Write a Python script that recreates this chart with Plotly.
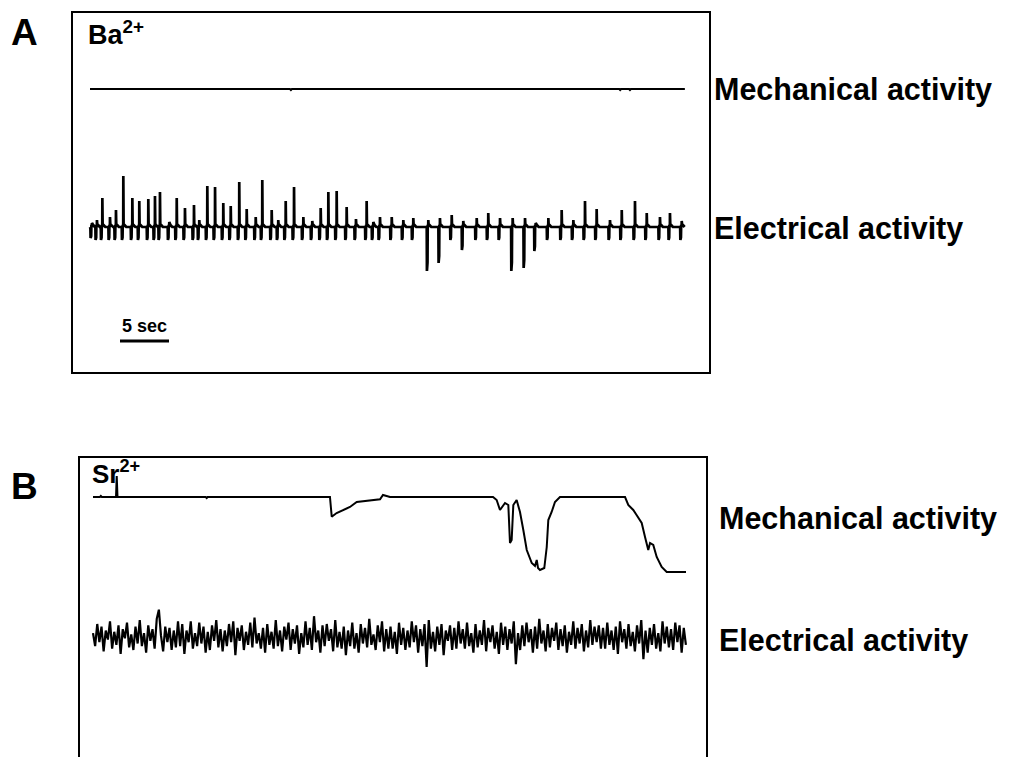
import plotly.graph_objects as go

W, H = 1013, 757
PX_PER_SEC = 9.8

# ---------------- Panel A (Ba2+) data ----------------
# spike times (s), upward spike amplitude, downward deflection depth (arbitrary units)
ba_spike_t = [0.2, 0.71, 1.26, 2.04, 2.65, 3.4, 4.32, 5.03, 5.95, 6.63, 7.14, 8.09, 8.85, 9.69,
              10.61, 11.15, 11.97, 12.76, 13.6, 14.36, 15.23, 15.99, 16.91, 17.58, 18.54, 19.21,
              19.97, 20.82, 21.77, 22.68, 23.54, 24.32, 25.17, 26.19, 27.14, 28.23, 28.91, 29.59,
              30.79, 31.97, 32.99, 34.52, 35.71, 36.91, 38.09, 39.46, 40.64, 41.84, 43.13, 44.39,
              45.48, 46.77, 48.13, 49.32, 50.51, 51.7, 53.06, 54.26, 55.61, 56.81, 58.16, 59.18, 60.38]
ba_spike_up = [5, 8, 30, 11, 18, 52, 30, 27, 29, 32, 36, 6, 30, 20,
               23, 8, 42, 41, 25, 22, 46, 19, 11, 48, 18, 8,
               27, 41, 11, 7, 20, 36, 37, 21, 9, 27, 6, 11,
               11, 8, 10, 8, 10, 13, 7, 10, 15, 10, 10, 10,
               5, 10, 18, 8, 27, 19, 8, 18, 27, 15, 11, 15, 7]
ba_spike_down = [10, 12, 12, 12, 12, 12, 12, 12, 12, 12, 12, 12, 12, 12,
                 12, 12, 12, 12, 12, 12, 12, 12, 12, 12, 12, 12,
                 12, 12, 12, 12, 12, 12, 12, 12, 12, 12, 12, 12,
                 12, 12, 12, 43, 35, 12, 22, 12, 12, 12, 43, 40,
                 23, 12, 12, 12, 12, 12, 12, 12, 12, 12, 12, 12, 12]
ba_mech_t = [0, 20.4, 20.5, 20.6, 54.0, 54.1, 54.2, 55.0, 55.1, 55.2, 60.7]
ba_mech_v = [0, 0, -1, 0, 0, -1, 0, 0, -1, 0, 0]

# ---------------- Panel B (Sr2+) data ----------------
sr_mech_t = [0, 0.71, 0.8, 0.9, 2.35, 2.42, 2.5, 11.5, 11.6, 11.7, 24.18, 24.36, 24.86, 25.51,
             26.22, 26.91, 27.93, 29.29, 29.59, 30.31, 40.82, 41.19, 41.53, 42.04, 42.38, 42.55,
             42.72, 42.89, 43.23, 43.57, 43.91, 44.26, 44.77, 45.1, 45.28, 45.41, 45.61, 46.05,
             46.3, 46.46, 46.8, 47.14, 47.65, 54.29, 54.62, 55.13, 55.4, 55.64, 55.99, 56.33,
             56.66, 56.84, 57.17, 57.52, 58.03, 58.54, 60.51]
sr_mech_v = [0, 0, 1, 0, 0, 21, 0, 0, -1, 0, 0, -19.7, -16, -13,
             -10, -5, -3.7, -2.3, 2, 0, 0, -3, -13, -6, -8, -46,
             -43, -8, -3, -15, -33, -53, -66, -69, -63, -71, -73, -71,
             -50, -23, -15, -5, 0, 0, -8, -13, -17, -21, -26, -40,
             -53, -46, -48, -60, -70, -75, -75]
sr_elec_v = [
    3, -7, 10, -4, 8, -11, 5, -2, 12, -9, 4, -6, 9, -13, 6, -1, 11, -8, 2, -10,
    8, -5, 13, -7, 3, -12, 9, -3, 6, -9, 14, 21, 1, -11, 8, -4, 7, -10, 5, -8,
    12, -7, 10, -13, 5, -4, 12, -9, 3, -7, 11, -5, 8, -12, 4, -10, 9, -3, 13, -8,
    6, -11, 5, -7, 10, -4, 12, -14, 7, -3, 9, -10, 4, -6, 11, -8, 15, -5, 3, -9,
    7, -12, 10, -6, 4, -9, 13, -7, 5, -11, 8, -2, 11, -10, 6, -5, 9, -13, 3, -8,
    12, -6, 7, -10, 16, -4, 5, -12, 9, -7, 10, -3, 6, -11, 13, -8, 4, -9, 8, -14,
    5, -7, 11, -9, 3, -12, 10, -5, 7, -8, 14, -6, 2, -10, 9, -4, 12, -11, 6, -9,
    8, -9, 4, -13, 11, -6, 7, -10, 5, -8, 12, -4, 9, -12, 6, -7, 10, -23, 13, -9,
    4, -11, 8, -6, 10, -14, 5, -3, 9, -10, 7, -9, 12, -5, 6, -9, 11, -7, 3, -12,
    10, -8, 5, -6, 13, -11, 7, -4, 9, -9, 4, -13, 11, -6, 8, -10, 6, -5, 12, -21,
    3, -10, 9, -7, 11, -4, 6, -12, 8, -9, 14, -5, 5, -11, 10, -8, 7, -3, 11, -10,
    6, -7, 9, -12, 4, -6, 12, -9, 7, -5, 10, -11, 5, -8, 13, -6, 8, -4, 9, -9,
    7, -9, 11, -6, 5, -10, 8, -13, 12, -4, 6, -9, 10, -7, 4, -11, 9, -5, 13, -17,
    5, -12, 7, -6, 10, -9, 3, -11, 12, -5, 8, -8, 6, -10, 11, -4, 9, -12, 7, -6,
]
sr_elec_duration = 60.5
scale_bar_sec = 5

# ---------------- layout geometry (pixels) ----------------
A_box = dict(l=73, r=709, t=13, b=372)
B_box = dict(l=80, r=706, t=458, b=757)
A_t0_px = 90
B_t0_px = 93
A_mech_y, A_elec_y = 89, 228
B_mech_y, B_elec_y = 497, 637
B_elec_gain = 1.3   # display gain (px per unit) for the Sr electrical trace

FONT = "Liberation Sans, Arial, Helvetica, sans-serif"

# build electrical A waveform from per-spike data
ex, ey = [], []
for t, up, dn in zip(ba_spike_t, ba_spike_up, ba_spike_down):
    for dt, v in [(-0.22, 1), (-0.16, 0), (-0.14, -dn), (-0.08, -dn * 0.8), (-0.06, 2),
                  (-0.01, 2), (0.0, up), (0.03, 4), (0.12, 3), (0.3, 1)]:
        ex.append(t + dt)
        ey.append(v)

n = len(sr_elec_v)
sr_elec_t = [i * sr_elec_duration / (n - 1) for i in range(n)]

fig = go.Figure()
line2 = dict(color="black", width=2)
fig.add_trace(go.Scatter(x=ba_mech_t, y=[v - A_mech_y for v in ba_mech_v], mode="lines",
                         line=line2, xaxis="x", yaxis="y", hoverinfo="skip"))
fig.add_trace(go.Scatter(x=ex, y=[v - A_elec_y for v in ey], mode="lines",
                         line=dict(color="black", width=2.7), xaxis="x", yaxis="y", hoverinfo="skip"))
sb_t0 = (120 - A_t0_px) / PX_PER_SEC
fig.add_trace(go.Scatter(x=[sb_t0, sb_t0 + scale_bar_sec], y=[-341, -341], mode="lines",
                         line=dict(color="black", width=3), xaxis="x", yaxis="y", hoverinfo="skip"))
fig.add_trace(go.Scatter(x=sr_mech_t, y=[v - B_mech_y for v in sr_mech_v], mode="lines",
                         line=line2, xaxis="x2", yaxis="y2", hoverinfo="skip"))
fig.add_trace(go.Scatter(x=sr_elec_t, y=[v * B_elec_gain - B_elec_y for v in sr_elec_v], mode="lines",
                         line=dict(color="black", width=2.2), xaxis="x2", yaxis="y2", hoverinfo="skip"))

ax_common = dict(showgrid=False, zeroline=False, showticklabels=False, ticks="",
                 showline=True, linecolor="black", linewidth=2, fixedrange=True)

fig.update_layout(
    width=W, height=H, margin=dict(l=0, r=0, t=0, b=0),
    paper_bgcolor="white", plot_bgcolor="white", showlegend=False,
    xaxis=dict(domain=[A_box["l"] / W, A_box["r"] / W], mirror=True,
               range=[(A_box["l"] - A_t0_px) / PX_PER_SEC, (A_box["r"] - A_t0_px) / PX_PER_SEC],
               anchor="y", **ax_common),
    yaxis=dict(domain=[1 - A_box["b"] / H, 1 - A_box["t"] / H], mirror=True,
               range=[-A_box["b"], -A_box["t"]], anchor="x", **ax_common),
    xaxis2=dict(domain=[B_box["l"] / W, B_box["r"] / W], mirror=False, side="top",
                range=[(B_box["l"] - B_t0_px) / PX_PER_SEC, (B_box["r"] - B_t0_px) / PX_PER_SEC],
                anchor="y2", **ax_common),
    yaxis2=dict(domain=[0, 1 - B_box["t"] / H], mirror=True,
                range=[-B_box["b"], -B_box["t"]], anchor="x2", **ax_common),
)

def ann(text, xpx, ypx, size, xanchor="left"):
    fig.add_annotation(text=text, x=xpx / W, y=1 - ypx / H, xref="paper", yref="paper",
                       xanchor=xanchor, yanchor="middle", showarrow=False,
                       font=dict(family=FONT, size=size, color="black"))

ann("<b>A</b>", 9, 33, 37)
ann("<b>B</b>", 9, 487, 37)
ann("<b>Ba<sup>2+</sup></b>", 86, 33, 27)
ann("<b>Sr<sup>2+</sup></b>", 90, 472, 26)
ann("<b>5 sec</b>", 144, 326, 18, xanchor="center")
ann("<b>Mechanical activity</b>", 712, 89, 30.5)
ann("<b>Electrical activity</b>", 712, 228, 30.5)
ann("<b>Mechanical activity</b>", 717, 518, 30.5)
ann("<b>Electrical activity</b>", 717, 640, 30.5)

fig.write_html("out.html")
